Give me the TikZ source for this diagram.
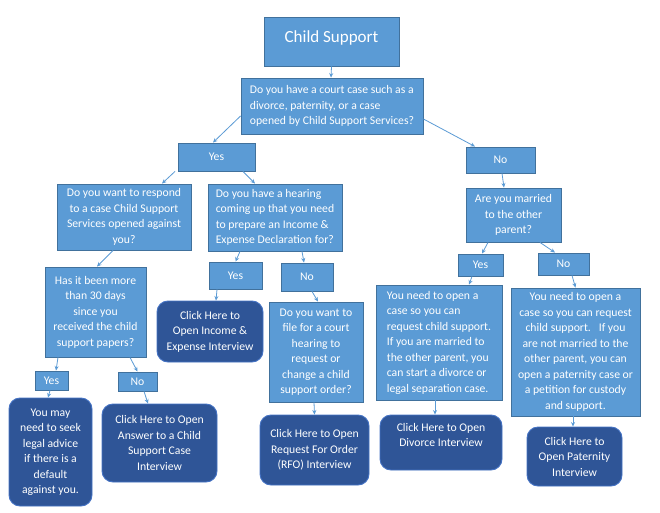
\documentclass[tikz,border=0pt]{standalone}
\usepackage{fontspec}
\setmainfont{Carlito}
\usetikzlibrary{arrows.meta,calc}
\definecolor{lb}{HTML}{5B9BD5}
\definecolor{lbd}{HTML}{41719C}
\definecolor{db}{HTML}{2F5597}
\definecolor{dbd}{HTML}{4472C4}
\definecolor{ar}{HTML}{5B9BD5}
\begin{document}
\begin{tikzpicture}[x=1pt,y=-1pt,
  qbox/.style={draw=lbd,fill=lb,line width=0.9pt,text=white,inner sep=0pt,align=center,
    font=\fontsize{11.7}{15.5}\selectfont},
  abox/.style={draw=lbd,fill=lb,line width=0.9pt,text=white,inner sep=0pt,align=center,
    font=\fontsize{11.7}{15.5}\selectfont},
  btn/.style={draw=dbd,fill=db,line width=0.9pt,text=white,inner sep=0pt,align=center,rounded corners=11pt,
    font=\fontsize{11.7}{15.5}\selectfont},
  conn/.style={draw=ar,line width=0.8pt,-{Stealth[length=4.5pt,width=4pt]}}]
\useasboundingbox (0,0) rectangle (660,513);
\fill[white] (0,0) rectangle (660,513);

\node[qbox,minimum width=135pt,minimum height=49pt,font=\fontsize{17}{20}\selectfont] (cs) at (331.5,41.5) {\raisebox{4pt}[\height][\depth]{Child Support}};
\node[qbox,minimum width=182pt,minimum height=56pt,align=left] (q1) at (332,106) {Do you have a court case such as a\\divorce, paternity, or a case\\opened by Child Support Services?};
\node[abox,minimum width=77pt,minimum height=28pt] (yes1) at (216.5,157) {Yes};
\node[abox,minimum width=69pt,minimum height=26pt] (no1) at (500.5,160) {No};
\node[qbox,minimum width=95pt,minimum height=54pt] (mar) at (513.5,215) {Are you married\\to the other\\parent?};
\node[abox,minimum width=45pt,minimum height=22pt] (yesm) at (480.5,265) {Yes};
\node[abox,minimum width=51pt,minimum height=22pt] (nom) at (563.5,264) {No};
\node[qbox,minimum width=126pt,minimum height=115pt,align=left] (yleaf) at (439,342.5) {You need to open a\\case so you can\\request child support.\\If you are married to\\the other parent, you\\can start a divorce or\\legal separation case.};
\node[qbox,minimum width=129pt,minimum height=128pt] (nleaf) at (575.5,352) {You need to open a\\case so you can request\\child support.\ \ \ If you\\are not married to the\\other parent, you can\\open a paternity case or\\a petition for custody\\and support.};
\node[btn,minimum width=122pt,minimum height=55pt] (div) at (441,442.5) {Click Here to Open\\Divorce Interview\\\mbox{}};
\node[btn,minimum width=95pt,minimum height=59pt] (pat) at (574.5,456.5) {Click Here to\\Open Paternity\\Interview};

\node[qbox,minimum width=134pt,minimum height=66pt] (resp) at (124,217) {Do you want to respond\\to a case Child Support\\Services opened against\\you?};
\node[qbox,minimum width=134pt,minimum height=67pt,align=left] (hear) at (275,217.5) {Do you have a hearing\\coming up that you need\\to prepare an Income \&\\Expense Declaration for?};
\node[qbox,minimum width=101pt,minimum height=90pt] (days) at (95.5,312) {Has it been more\\than 30 days\\since you\\received the child\\support papers?};
\node[abox,minimum width=53pt,minimum height=27pt] (yesh) at (235.5,275.5) {Yes};
\node[abox,minimum width=52pt,minimum height=28pt] (noh) at (307,277) {No};
\node[btn,minimum width=106pt,minimum height=61pt] (inc) at (210,331.5) {Click Here to\\Open Income \&\\Expense Interview};
\node[qbox,minimum width=94pt,minimum height=100pt] (rfoq) at (316,352) {Do you want to\\file for a court\\hearing to\\request or\\change a child\\support order?};
\node[btn,minimum width=109pt,minimum height=70pt] (rfo) at (314.5,450) {Click Here to Open\\Request For Order\\(RFO) Interview};
\node[abox,minimum width=33pt,minimum height=19pt] (y30) at (51.5,380.5) {Yes};
\node[abox,minimum width=39pt,minimum height=19pt] (n30) at (137.5,381.5) {No};
\node[btn,minimum width=83pt,minimum height=108pt] (legal) at (50.5,452) {You may\\need to seek\\legal advice\\if there is a\\default\\against you.};
\node[btn,minimum width=115pt,minimum height=78pt] (ans) at (159.5,443) {Click Here to Open\\Answer to a Child\\Support Case\\Interview};

\draw[conn] (cs.south) -- ($(q1.north)+(-1,0)$);
\draw[conn] ($(q1.west)+(0,10)$) -- ($(yes1.north)+(-3.5,0)$);
\draw[conn] ($(q1.east)+(0,13)$) -- ($(no1.north)+(-25.5,0)$);
\draw[conn] ($(yes1.south)+(-41.5,0)$) -- ($(resp.north)+(38,0)$);
\draw[conn] ($(yes1.south)+(26.5,0)$) -- ($(hear.north)+(-20,0)$);
\draw[conn] ($(no1.south)+(1.5,0)$) -- ($(mar.north)+(-9.5,0)$);
\draw[conn] ($(mar.south)+(-25.5,0)$) -- ($(yesm.north)+(1.5,0)$);
\draw[conn] ($(mar.south)+(26.5,0)$) -- ($(nom.north)+(-8.5,0)$);
\draw[conn] ($(yesm.south)+(-8.5,0)$) -- ($(yleaf.north)+(30,0)$);
\draw[conn] ($(nom.south)+(8.5,0)$) -- (nleaf.north);
\draw[conn] ($(yleaf.south)+(-4,0)$) -- ($(div.north)+(-6,0)$);
\draw[conn] ($(nleaf.south)+(-2.5,0)$) -- ($(pat.north)+(-1.5,0)$);
\draw[conn] ($(resp.south)+(-11,0)$) -- ($(days.north)+(1.5,0)$);
\draw[conn] ($(hear.south)+(-35,0)$) -- (yesh.north);
\draw[conn] ($(hear.south)+(27,0)$) -- ($(noh.north)+(-3,0)$);
\draw[conn] ($(yesh.south)+(-18.5,0)$) -- ($(inc.north)+(6,0)$);
\draw[conn] ($(noh.south)+(5,0)$) -- ($(rfoq.north)+(2,0)$);
\draw[conn] ($(rfoq.south)+(-2,0)$) -- (rfo.north);
\draw[conn] ($(days.south)+(-37.5,0)$) -- ($(y30.north)+(4.5,0)$);
\draw[conn] ($(days.south)+(34.5,0)$) -- (n30.north);
\draw[conn] ($(y30.south)+(-1.5,0)$) -- ($(legal.north)+(-2.5,0)$);
\draw[conn] ($(n30.south)+(6.5,0)$) -- ($(ans.north)+(-11.5,0)$);
\end{tikzpicture}
\end{document}
